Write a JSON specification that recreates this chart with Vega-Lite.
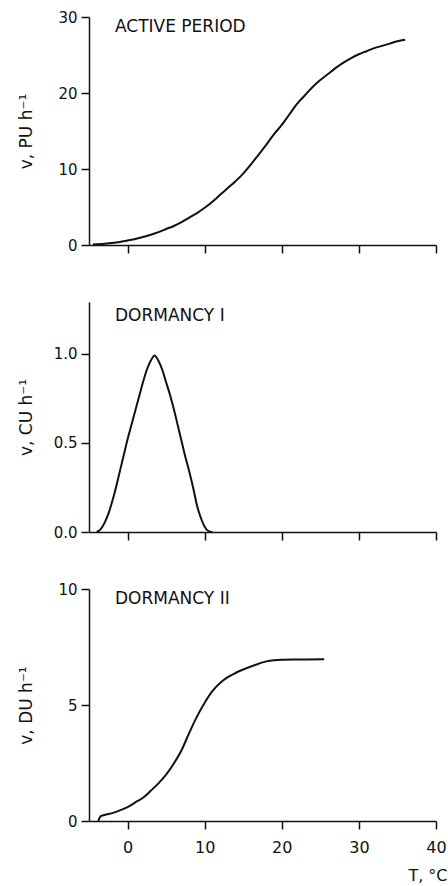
{
  "$schema": "https://vega.github.io/schema/vega-lite/v6.json",
  "padding": {"left": 17, "top": 10, "right": 0, "bottom": 0},
  "background": "white",
  "bounds": "flush",
  "spacing": 57,
  "data": {"values": [
    {"panel": "A", "T": -4.5, "v": 0.05}, {"panel": "A", "T": -3, "v": 0.15}, {"panel": "A", "T": -2, "v": 0.25}, {"panel": "A", "T": -1, "v": 0.4},
    {"panel": "A", "T": 0, "v": 0.6}, {"panel": "A", "T": 1, "v": 0.8}, {"panel": "A", "T": 2, "v": 1.05}, {"panel": "A", "T": 3, "v": 1.35},
    {"panel": "A", "T": 4, "v": 1.7}, {"panel": "A", "T": 5, "v": 2.1}, {"panel": "A", "T": 6, "v": 2.5}, {"panel": "A", "T": 7, "v": 3.0},
    {"panel": "A", "T": 8, "v": 3.6}, {"panel": "A", "T": 9, "v": 4.2}, {"panel": "A", "T": 10, "v": 4.9}, {"panel": "A", "T": 11, "v": 5.7},
    {"panel": "A", "T": 12, "v": 6.6}, {"panel": "A", "T": 13, "v": 7.5}, {"panel": "A", "T": 14, "v": 8.4}, {"panel": "A", "T": 15, "v": 9.4},
    {"panel": "A", "T": 16, "v": 10.6}, {"panel": "A", "T": 17, "v": 11.9}, {"panel": "A", "T": 18, "v": 13.2}, {"panel": "A", "T": 19, "v": 14.6},
    {"panel": "A", "T": 20, "v": 15.8}, {"panel": "A", "T": 21, "v": 17.2}, {"panel": "A", "T": 22, "v": 18.6}, {"panel": "A", "T": 23, "v": 19.7},
    {"panel": "A", "T": 24, "v": 20.8}, {"panel": "A", "T": 25, "v": 21.7}, {"panel": "A", "T": 26, "v": 22.5}, {"panel": "A", "T": 27, "v": 23.3},
    {"panel": "A", "T": 28, "v": 24.0}, {"panel": "A", "T": 29, "v": 24.6}, {"panel": "A", "T": 30, "v": 25.1}, {"panel": "A", "T": 31, "v": 25.5},
    {"panel": "A", "T": 32, "v": 25.9}, {"panel": "A", "T": 33, "v": 26.2}, {"panel": "A", "T": 34, "v": 26.5}, {"panel": "A", "T": 35, "v": 26.8},
    {"panel": "A", "T": 36, "v": 27.0},
    {"panel": "B", "T": -4, "v": 0}, {"panel": "B", "T": -3.5, "v": 0.015}, {"panel": "B", "T": -3, "v": 0.05}, {"panel": "B", "T": -2.5, "v": 0.1},
    {"panel": "B", "T": -2, "v": 0.17}, {"panel": "B", "T": -1.5, "v": 0.25}, {"panel": "B", "T": -1, "v": 0.34}, {"panel": "B", "T": -0.5, "v": 0.43},
    {"panel": "B", "T": 0, "v": 0.52}, {"panel": "B", "T": 0.5, "v": 0.6}, {"panel": "B", "T": 1, "v": 0.68}, {"panel": "B", "T": 1.5, "v": 0.76},
    {"panel": "B", "T": 2, "v": 0.84}, {"panel": "B", "T": 2.5, "v": 0.91}, {"panel": "B", "T": 3, "v": 0.96}, {"panel": "B", "T": 3.5, "v": 0.99},
    {"panel": "B", "T": 4, "v": 0.96}, {"panel": "B", "T": 4.5, "v": 0.91}, {"panel": "B", "T": 5, "v": 0.84}, {"panel": "B", "T": 5.5, "v": 0.77},
    {"panel": "B", "T": 6, "v": 0.69}, {"panel": "B", "T": 6.5, "v": 0.6}, {"panel": "B", "T": 7, "v": 0.51}, {"panel": "B", "T": 7.5, "v": 0.42},
    {"panel": "B", "T": 8, "v": 0.34}, {"panel": "B", "T": 8.5, "v": 0.25}, {"panel": "B", "T": 9, "v": 0.15}, {"panel": "B", "T": 9.5, "v": 0.08},
    {"panel": "B", "T": 10, "v": 0.03}, {"panel": "B", "T": 10.5, "v": 0.005}, {"panel": "B", "T": 11, "v": 0},
    {"panel": "C", "T": -3.8, "v": 0}, {"panel": "C", "T": -3.5, "v": 0.2}, {"panel": "C", "T": -3, "v": 0.26}, {"panel": "C", "T": -2, "v": 0.34},
    {"panel": "C", "T": -1, "v": 0.46}, {"panel": "C", "T": 0, "v": 0.6}, {"panel": "C", "T": 1, "v": 0.8}, {"panel": "C", "T": 2, "v": 1.0},
    {"panel": "C", "T": 3, "v": 1.3}, {"panel": "C", "T": 4, "v": 1.62}, {"panel": "C", "T": 5, "v": 2.0}, {"panel": "C", "T": 6, "v": 2.48},
    {"panel": "C", "T": 7, "v": 3.05}, {"panel": "C", "T": 8, "v": 3.8}, {"panel": "C", "T": 9, "v": 4.5}, {"panel": "C", "T": 10, "v": 5.1},
    {"panel": "C", "T": 11, "v": 5.6}, {"panel": "C", "T": 12, "v": 5.95}, {"panel": "C", "T": 13, "v": 6.2}, {"panel": "C", "T": 14, "v": 6.38},
    {"panel": "C", "T": 15, "v": 6.53}, {"panel": "C", "T": 16, "v": 6.66}, {"panel": "C", "T": 17, "v": 6.78}, {"panel": "C", "T": 18, "v": 6.88},
    {"panel": "C", "T": 19, "v": 6.93}, {"panel": "C", "T": 20, "v": 6.95}, {"panel": "C", "T": 22, "v": 6.96}, {"panel": "C", "T": 25.5, "v": 6.97}
  ]},
  "vconcat": [
    {
      "width": 347, "height": 228,
      "title": {"text": "ACTIVE  PERIOD", "offset": -39, "dx": 26, "baseline": "alphabetic"},
      "transform": [{"filter": "datum.panel === 'A'"}],
      "mark": {"type": "line", "interpolate": "monotone"},
      "encoding": {
        "x": {"field": "T", "type": "quantitative", "scale": {"domain": [-5, 40], "nice": false, "zero": false},
              "axis": {"values": [0, 10, 20, 30, 40], "labels": false, "title": null}},
        "y": {"field": "v", "type": "quantitative", "scale": {"domain": [0, 30], "nice": false},
              "axis": {"values": [0, 10, 20, 30], "title": "v, PU h⁻¹"}}
      }
    },
    {
      "width": 347, "height": 230,
      "title": {"text": "DORMANCY  I", "offset": -36, "dx": 26, "baseline": "alphabetic"},
      "transform": [{"filter": "datum.panel === 'B'"}],
      "mark": {"type": "line", "interpolate": "monotone"},
      "encoding": {
        "x": {"field": "T", "type": "quantitative", "scale": {"domain": [-5, 40], "nice": false, "zero": false},
              "axis": {"values": [0, 10, 20, 30, 40], "labels": false, "title": null}},
        "y": {"field": "v", "type": "quantitative", "scale": {"domain": [0, 1.29], "nice": false},
              "axis": {"values": [0, 0.5, 1.0], "format": ".1f", "title": "v, CU h⁻¹"}}
      }
    },
    {
      "width": 347, "height": 232,
      "title": {"text": "DORMANCY  II", "offset": -39, "dx": 26, "baseline": "alphabetic"},
      "transform": [{"filter": "datum.panel === 'C'"}],
      "mark": {"type": "line", "interpolate": "monotone"},
      "encoding": {
        "x": {"field": "T", "type": "quantitative", "scale": {"domain": [-5, 40], "nice": false, "zero": false},
              "axis": {"values": [0, 10, 20, 30, 40], "labelFlush": false, "labelPadding": 10, "labelFontSize": 16,
                       "title": "T, °C", "titleX": 358, "titleY": 54, "titleAlign": "right", "titleBaseline": "middle", "titleFontSize": 16}},
        "y": {"field": "v", "type": "quantitative", "scale": {"domain": [0, 10], "nice": false},
              "axis": {"values": [0, 5, 10], "title": "v, DU h⁻¹"}}
      }
    }
  ],
  "config": {
    "view": {"stroke": null},
    "axis": {"grid": false, "domainColor": "#111", "domainWidth": 1.5, "tickColor": "#111", "tickWidth": 1.5, "tickSize": 8,
             "labelFont": "DejaVu Sans", "labelFontSize": 15, "labelColor": "#111", "labelPadding": 4,
             "titleFont": "DejaVu Sans", "titleFontSize": 17, "titleFontWeight": "normal", "titleColor": "#111"},
    "axisY": {"titleX": -63, "titleBaseline": "middle"},
    "title": {"font": "DejaVu Sans", "fontSize": 17, "fontWeight": "normal", "color": "#111", "anchor": "start", "frame": "group"},
    "line": {"color": "#111", "strokeWidth": 2}
  }
}
